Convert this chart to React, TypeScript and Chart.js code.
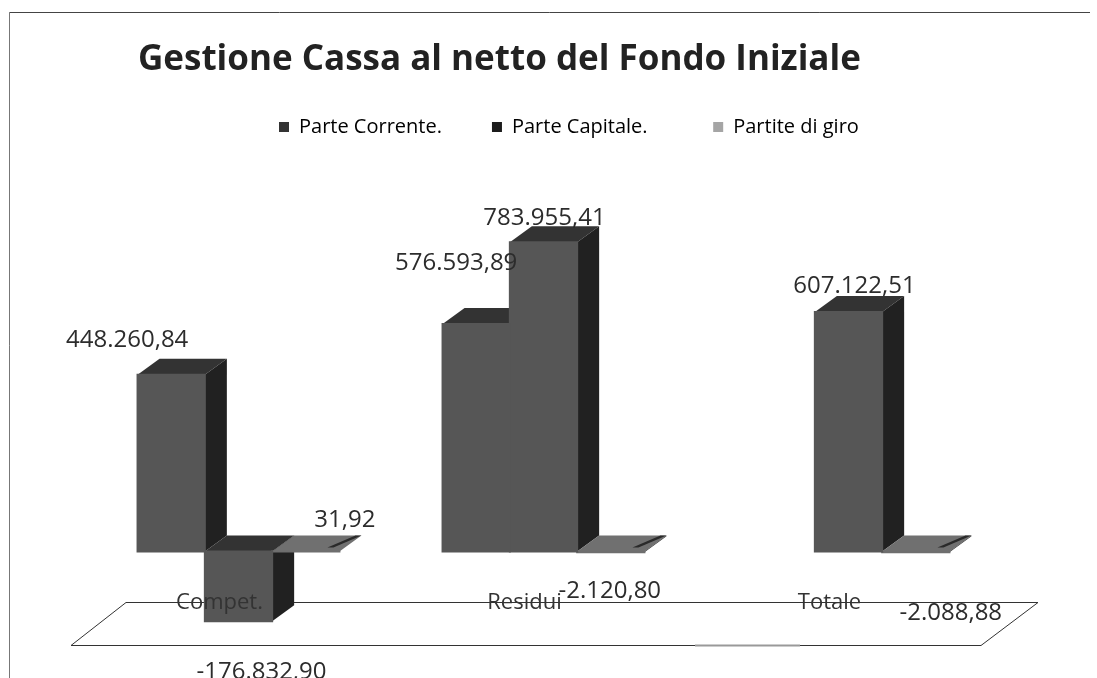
import React, { useEffect, useRef } from "react";
import { Chart, registerables } from "chart.js";

Chart.register(...registerables);

const categories = ["Compet.", "Residui", "Totale"];
const seriesNames = ["Parte Corrente.", "Parte Capitale.", "Partite di giro"];
const parteCorrente: (number | null)[] = [448260.84, 576593.89, null];
const parteCapitale: (number | null)[] = [-176832.9, 783955.41, 607122.51];
const partiteDiGiro: (number | null)[] = [31.92, -2120.8, -2088.88];

const FRONT = ["#565656", "#565656", "#6e6e6e"];
const TOP = ["#333333", "#333333", "#707070"];
const SIDE = ["#212121", "#212121", "#2a2a2a"];
const LEGEND = ["#333333", "#1c1c1c", "#a5a5a5"];
const DX = 22;
const DY = 16;
const TEXT = "#2c2c2c";

// nudges of each value label from its bar: [dataset][category]
const LABEL_NUDGE: number[][][] = [
  [[-44, -35], [-20, -61], [0, 0]],
  [[23, 51], [1, -24], [6, -26]],
  [[39, -31], [-1, 39], [35, 61]],
];

const fmt = (v: number) => {
  const [i, d] = Math.abs(v).toFixed(2).split(".");
  return (v < 0 ? "-" : "") + i.replace(/\B(?=(\d{3})+$)/g, ".") + "," + d;
};

const poly = (ctx: CanvasRenderingContext2D, pts: number[][], fill: string) => {
  ctx.beginPath();
  pts.forEach((p, i) => (i ? ctx.lineTo(p[0], p[1]) : ctx.moveTo(p[0], p[1])));
  ctx.closePath();
  ctx.fillStyle = fill;
  ctx.fill();
};

const placePlugin = {
  id: "place",
  afterLayout(chart: any) {
    const t = chart.titleBlock;
    t.left = 138;
    t.right = 900;
    t.top = 39;
    const l = chart.legend;
    const pad = l.options.labels.padding;
    l.left = 279 - pad;
    l.right = 1097;
    l.top = 117 - pad;
  },
};

const framePlugin = {
  id: "frame",
  beforeDraw(chart: any) {
    const ctx = chart.ctx;
    ctx.save();
    ctx.fillStyle = "#fff";
    ctx.fillRect(0, 0, chart.width, chart.height);
    ctx.strokeStyle = "#777";
    ctx.lineWidth = 1;
    ctx.beginPath();
    ctx.moveTo(9.5, chart.height);
    ctx.lineTo(9.5, 12.5);
    ctx.stroke();
    ctx.strokeStyle = "#444";
    ctx.beginPath();
    ctx.moveTo(9.5, 12.5);
    ctx.lineTo(1090, 12.5);
    ctx.stroke();
    ctx.restore();
  },
};

const threeDPlugin = {
  id: "threeD",
  beforeDatasetsDraw(chart: any) {
    const ctx = chart.ctx;
    const a = chart.chartArea;
    ctx.save();
    // floor
    const fy0 = 602.5;
    const fy1 = 645.5;
    ctx.strokeStyle = "#333";
    ctx.lineWidth = 1;
    ctx.beginPath();
    ctx.moveTo(a.left + 40, fy0);
    ctx.lineTo(a.right + 37, fy0);
    ctx.lineTo(a.right - 20, fy1);
    ctx.lineTo(a.left - 15, fy1);
    ctx.closePath();
    ctx.stroke();
    ctx.strokeStyle = "#999";
    ctx.lineWidth = 2;
    ctx.beginPath();
    ctx.moveTo(695, fy1);
    ctx.lineTo(800, fy1);
    ctx.stroke();
    // depth faces
    categories.forEach((_, j) => {
      chart.data.datasets.forEach((_d: any, i: number) => {
        const el = chart.getDatasetMeta(i).data[j];
        const v = chart.data.datasets[i].data[j];
        if (v == null) return;
        const half = el.width / 2;
        const l = el.x - half;
        const r = el.x + half;
        const top = Math.min(el.y, el.base);
        const bot = Math.max(el.y, el.base);
        poly(ctx, [[l, top], [l + DX, top - DY], [r + DX, top - DY], [r, top]], TOP[i]);
        poly(ctx, [[r, top], [r + DX, top - DY], [r + DX, bot - DY], [r, bot]], SIDE[i]);
        if (i === 2) {
          const k = 0.75;
          poly(ctx, [[r - 6, top - DY * (1 - k) ], [r + DX, top - DY], [r + DX - 6, top - DY], [r - 12, top - DY * (1 - k)]], SIDE[i]);
        }
      });
    });
    ctx.restore();
  },
  afterDatasetsDraw(chart: any) {
    const ctx = chart.ctx;
    ctx.save();
    ctx.font = "24px 'Open Sans'";
    ctx.fillStyle = TEXT;
    ctx.textAlign = "center";
    ctx.textBaseline = "middle";
    chart.data.datasets.forEach((d: any, i: number) => {
      d.data.forEach((v: number | null, j: number) => {
        if (v == null) return;
        const el = chart.getDatasetMeta(i).data[j];
        const n = LABEL_NUDGE[i][j];
        ctx.fillText(fmt(v), el.x + n[0], Math.min(el.y, el.base) + (v < 0 ? Math.abs(el.y - el.base) : 0) + n[1]);
      });
    });
    ctx.restore();
  },
};

export default function App() {
  const ref = useRef<HTMLCanvasElement>(null);
  useEffect(() => {
    const chart = new Chart(ref.current as HTMLCanvasElement, {
      type: "bar",
      data: {
        labels: categories,
        datasets: [parteCorrente, parteCapitale, partiteDiGiro].map((data, i) => ({
          label: seriesNames[i],
          data,
          backgroundColor: FRONT[i],
          borderWidth: 0,
          inflateAmount: 1,
          categoryPercentage: 0.662,
          barPercentage: 1,
          clip: false as any,
        })),
      },
      options: {
        animation: false,
        responsive: false,
        layout: { padding: { top: 114, left: 86, right: 96, bottom: 28 } },
        plugins: {
          title: {
            display: true,
            text: "Gestione Cassa al netto del Fondo Iniziale",
            align: "start",
            color: "#222",
            font: { family: "'Open Sans'", size: 35, weight: "bold" },
            padding: 0,
          },
          legend: {
            display: true,
            align: "start",
            onClick: undefined as any,
            labels: {
              boxWidth: 10,
              boxHeight: 10,
              padding: 50,
              color: "#222",
              font: { family: "'Open Sans'", size: 20 },
              generateLabels: () =>
                seriesNames.map((text, i) => ({
                  text: i === 1 ? text + "   " : text,
                  fillStyle: LEGEND[i],
                  strokeStyle: LEGEND[i],
                  lineWidth: 0,
                  datasetIndex: i,
                })),
            },
          },
          tooltip: { enabled: false },
        },
        scales: {
          x: {
            position: { y: -96000 } as any,
            grid: { display: false, drawTicks: false },
            border: { display: false },
            ticks: {
              color: "#333",
              font: { family: "'Open Sans'", size: 22 },
              labelOffset: -19,
              padding: 0,
              maxRotation: 0,
              z: 1,
            },
          },
          y: { display: false, min: -250000, max: 800000 },
        },
      },
      plugins: [placePlugin, framePlugin, threeDPlugin],
    } as any);
    return () => chart.destroy();
  }, []);
  return (
    <div style={{ position: "fixed", left: 0, top: 0 }}>
      <canvas ref={ref} width={1097} height={678} style={{ display: "block", width: 1097, height: 678 }} />
    </div>
  );
}
